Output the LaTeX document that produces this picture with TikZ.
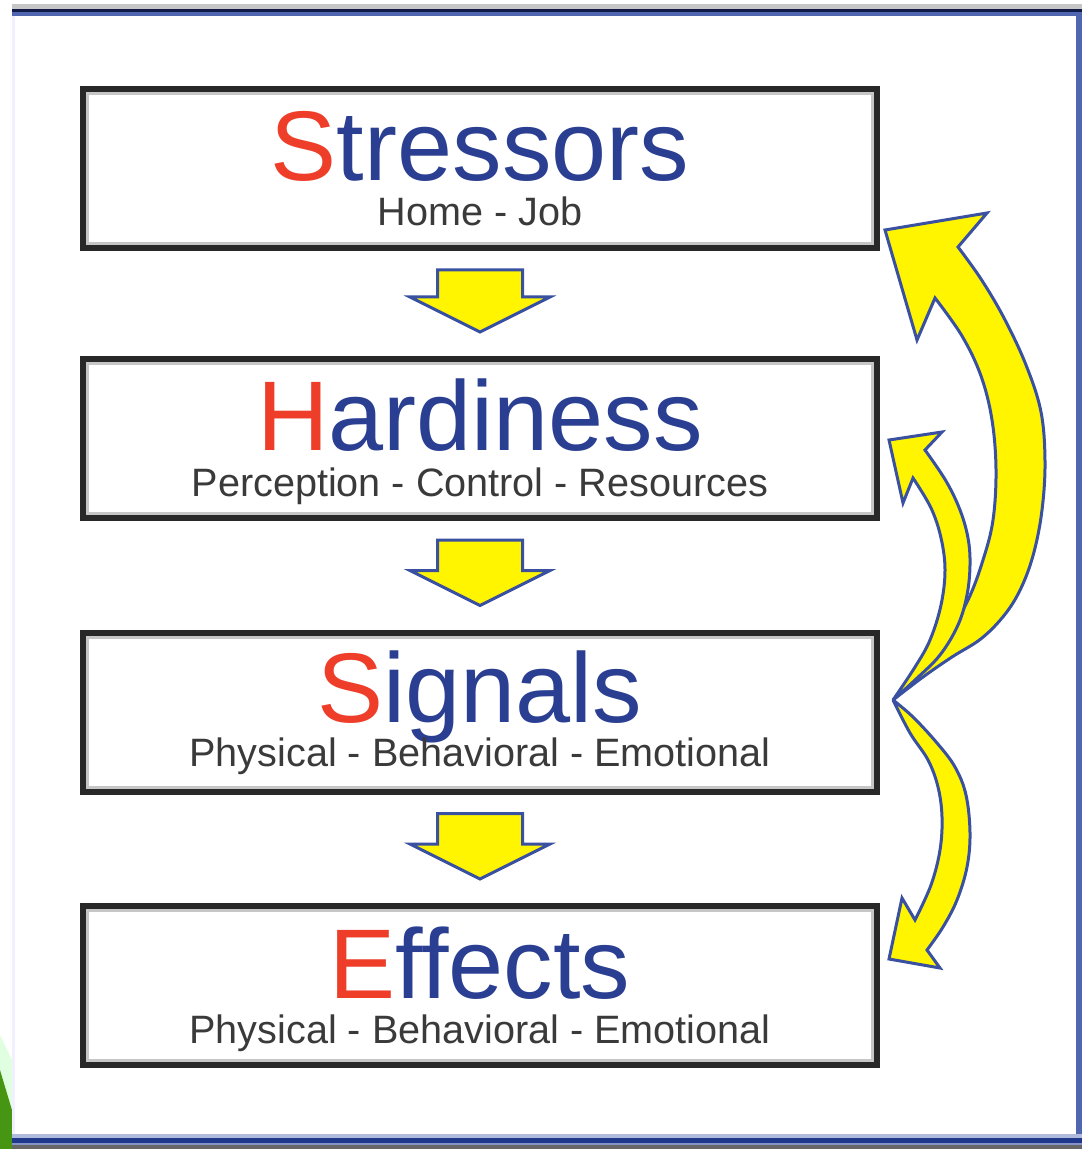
\documentclass[tikz,border=0pt]{standalone}
\usepackage{fontspec}
\setmainfont{Liberation Sans}
\usepackage{tikz}
\usetikzlibrary{calc}

\definecolor{stagered}{RGB}{238,62,42}
\definecolor{stageblue}{RGB}{42,62,146}
\definecolor{subgray}{RGB}{58,58,58}
\definecolor{boxline}{RGB}{40,40,40}
\definecolor{arrowfill}{RGB}{255,245,0}
\definecolor{arrowline}{RGB}{58,80,160}
\definecolor{framenavy}{RGB}{18,26,70}
\definecolor{frameblue}{RGB}{80,102,176}
\definecolor{framedeep}{RGB}{32,56,140}
\definecolor{leafgreen}{RGB}{70,150,20}

\begin{document}
\begin{tikzpicture}[x=0.5pt, y=-0.5pt,
  stage/.style={draw=boxline, line width=3pt, fill=white, inner sep=0pt,
                minimum width=397pt, minimum height=79.5pt},
  bevel/.style={draw=gray!45, line width=1.5pt},
  title/.style={anchor=base, inner sep=0pt, text=stageblue, text depth=0pt,
                font=\fontsize{49.5pt}{50pt}\selectfont},
  subtitle/.style={anchor=base, inner sep=0pt, text=subgray,
                font=\fontsize{19.8pt}{20pt}\selectfont},
  blockarrow/.style={fill=arrowfill, draw=arrowline, line width=1.5pt},
  curvearrow/.style={fill=arrowfill, draw=arrowline, line width=1.5pt,
                     miter limit=4}]
\useasboundingbox (0,0) rectangle (1082,1149);

% frame round the slide
\fill[white] (0,0) rectangle (1082,1149);
\fill[green!12!white] (0,1035) -- (12,1060) -- (12,1110) -- (0,1070) -- cycle;
\fill[leafgreen] (0,1070) -- (12,1110) -- (12,1149) -- (0,1149) -- cycle;
\fill[gray!45] (12,4) rectangle (1082,9);
\fill[framenavy] (12,9) rectangle (1082,12);
\fill[frameblue] (12,12) rectangle (1082,16);
\fill[blue!6] (12,16) rectangle (15,1134);
\fill[frameblue] (1076,12) rectangle (1082,1138);
\fill[frameblue!45] (12,1134) rectangle (1082,1138);
\fill[framedeep] (12,1138) rectangle (1082,1143);
\fill[frameblue!70] (12,1143) rectangle (1082,1145);
\fill[gray!80!black] (12,1145) rectangle (1082,1149);

% the four stages
\node[stage] (stress) at (480,168.5) {};
\node[stage] (hard) at (480,438.5) {};
\node[stage] (sig) at (480,712) {};
\node[stage] (eff) at (480,985.5) {};
\foreach \n in {stress, hard, sig, eff}
  \draw[bevel] ([shift={(3.75pt,3.75pt)}]\n.south west)
    rectangle ([shift={(-3.75pt,-3.75pt)}]\n.north east);

\node[title] (stresst) at ([yshift=-47.5pt]stress.north) {\textcolor{stagered}{S}tressors};
\node[subtitle] (stresss) at ([yshift=-70pt]stress.north) {Home - Job};
\node[title] (hardt) at ([yshift=-47.5pt]hard.north) {\textcolor{stagered}{H}ardiness};
\node[subtitle] (hards) at ([yshift=-70pt]hard.north) {Perception - Control - Resources};
\node[title] (sigt) at ([yshift=-46.5pt]sig.north) {\textcolor{stagered}{S}ignals};
\node[subtitle] (sigs) at ([yshift=-68.5pt]sig.north) {Physical - Behavioral - Emotional};
\node[title] (efft) at ([yshift=-47.5pt]eff.north) {\textcolor{stagered}{E}ffects};
\node[subtitle] (effs) at ([yshift=-70pt]eff.north) {Physical - Behavioral - Emotional};

% block arrows down the chain
\foreach \a/\b in {stress/hard, hard/sig, sig/eff}
  \filldraw[blockarrow] ([xshift=-21.25pt,yshift=-9.5pt]\a.south)
    -- ([xshift=21.25pt,yshift=-9.5pt]\a.south)
    -- ([xshift=21.25pt,yshift=29.5pt]\b.north)
    -- ([xshift=35pt,yshift=29.5pt]\b.north)
    -- ([yshift=12pt]\b.north)
    -- ([xshift=-35pt,yshift=29.5pt]\b.north)
    -- ([xshift=-21.25pt,yshift=29.5pt]\b.north) -- cycle;

% feedback arrows leaving the signals
\coordinate (fork) at ([xshift=6.5pt,yshift=6pt]sig.east);

\filldraw[curvearrow] plot[smooth, tension=.6] coordinates {(fork) (923,677)
    (952,657) (982,638) (1006,613) (1022,586) (1034,552) (1042,510) (1045,462)
    (1041,412) (1026,365) (1004,318) (981,279) (958,247)}
  -- (987,213) -- (885,230) -- (917,340)
  -- plot[smooth, tension=.6] coordinates {(935,298) (962,336) (981,376)
    (992,420) (996,470) (993,520) (983,560) (968,600) (945,640) (920,672) (fork)}
  -- cycle;

\filldraw[curvearrow] plot[smooth, tension=.6] coordinates {(fork) (915,680)
    (940,655) (958,625) (967,595) (970,565) (968,538) (960,510) (946,481) (925,450)}
  -- (942,432) -- (889,440) -- (903,503)
  -- plot[smooth, tension=.6] coordinates {(913,478) (931,508) (941,538)
    (945,570) (941,605) (930,640) (915,667) (fork)}
  -- cycle;

\filldraw[curvearrow] plot[smooth, tension=.6] coordinates {(fork) (913,717)
    (937,743) (955,767) (966,795) (970,833) (967,867) (957,900) (943,927) (927,950)}
  -- (940,968) -- (889,959) -- (902,898)
  -- plot[smooth, tension=.6] coordinates {(915,920) (931,885) (940,850)
    (942,817) (938,787) (928,760) (910,733) (fork)}
  -- cycle;
\end{tikzpicture}
\end{document}
